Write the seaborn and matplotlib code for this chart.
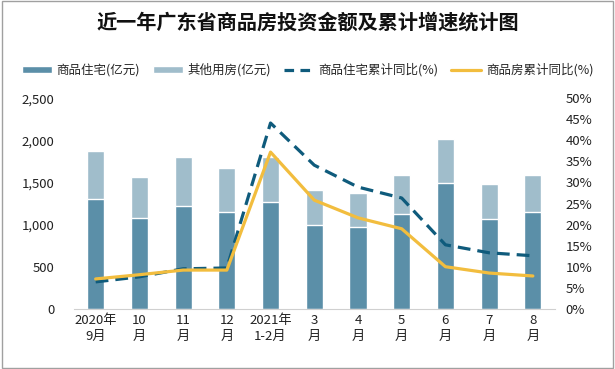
#! /usr/bin/env python3

"""Guangdong commercial housing investment over the past year, with cumulative growth."""

import seaborn as sns
import matplotlib.pyplot as plt
from matplotlib.patches import Patch, Rectangle
from matplotlib.lines import Line2D
from matplotlib.ticker import FuncFormatter
import numpy as np
import pandas

months = ["2020年\n9月", "10\n月", "11\n月", "12\n月", "2021年\n1-2月", "3\n月",
          "4\n月", "5\n月", "6\n月", "7\n月", "8\n月"]
housing = [1303, 1078, 1220, 1149, 1268, 995, 972, 1126, 1493, 1066, 1149]
other = [569, 486, 581, 522, 538, 415, 402, 462, 521, 415, 439]
housing_yoy = [6.4, 7.6, 9.5, 9.7, 44.1, 34.1, 28.9, 26.3, 15.2, 13.3, 12.6]
total_yoy = [7.1, 8.1, 9.2, 9.2, 37.2, 25.8, 21.6, 19.0, 10.0, 8.5, 7.8]

DARK = "#5b8fa8"
LIGHT = "#a0bdcb"
NAVY = "#0f5b7c"
GOLD = "#f2bd3e"


def main():
    df = pandas.DataFrame({"month": months, "housing": housing, "other": other,
                           "housing_yoy": housing_yoy, "total_yoy": total_yoy})
    df["total"] = df["housing"] + df["other"]
    df["pos"] = np.arange(len(df))

    sns.set_style("white")
    plt.rcParams["font.family"] = ["Noto Sans CJK SC", "DejaVu Sans"]

    fig = plt.figure(figsize=(6.15, 3.69), dpi=100)
    ax = fig.add_axes([0.120, 0.163, 0.782, 0.571])

    sns.barplot(data=df, x="month", y="total", color=LIGHT, width=0.39,
                saturation=1, ax=ax)
    sns.barplot(data=df, x="month", y="housing", color=DARK, width=0.39,
                saturation=1, ax=ax)
    ax.set_ylim(0, 2500)
    ax.set_yticks(range(0, 2501, 500))
    ax.yaxis.set_major_formatter(FuncFormatter(lambda v, p: f"{int(v):,}"))
    ax.set_xlabel("")
    ax.set_ylabel("")
    ax.tick_params(axis="both", length=0, labelsize=9.5, colors="#222222")
    ax.tick_params(axis="y", pad=14)
    for lab in ax.get_xticklabels():
        lab.set_linespacing(1.35)
    for s in ["top", "left", "right"]:
        ax.spines[s].set_visible(False)
    ax.spines["bottom"].set_color("#d0d0d0")

    ax2 = ax.twinx()
    sns.lineplot(data=df, x="pos", y="housing_yoy", color=NAVY, lw=2.3,
                 ax=ax2, dashes=False)
    ax2.lines[-1].set_dashes([4, 2.2])
    sns.lineplot(data=df, x="pos", y="total_yoy", color=GOLD, lw=2.3, ax=ax2)
    ax2.set_ylim(0, 50)
    ax2.set_yticks(range(0, 51, 5))
    ax2.yaxis.set_major_formatter(FuncFormatter(lambda v, p: f"{int(v)}%"))
    ax2.set_xlim(-0.5, len(df) - 0.5)
    ax2.set_ylabel("")
    ax2.set_xlabel("")
    ax2.tick_params(axis="y", length=0, labelsize=9.5, colors="#222222", pad=8)
    for s in ["top", "left", "right", "bottom"]:
        ax2.spines[s].set_visible(False)

    fig.text(0.5, 0.94, "近一年广东省商品房投资金额及累计增速统计图",
             ha="center", va="center", fontsize=14.5, fontweight="bold",
             color="#111111")

    handles = [
        Patch(facecolor=DARK, label="商品住宅(亿元)"),
        Patch(facecolor=LIGHT, label="其他用房(亿元)"),
        Line2D([], [], color=NAVY, lw=2.3, dashes=[3, 2], label="商品住宅累计同比(%)"),
        Line2D([], [], color=GOLD, lw=2.3, label="商品房累计同比(%)"),
    ]
    fig.legend(handles=handles, loc="center", bbox_to_anchor=(0.5, 0.81),
               ncol=4, frameon=False, fontsize=9, handlelength=2.4,
               handleheight=0.45, columnspacing=1.0, handletextpad=0.4)

    fig.patches.append(Rectangle((0.003, 0.004), 0.994, 0.992,
                                 transform=fig.transFigure, fill=False,
                                 edgecolor="#a0a0a0", lw=1))
    fig.savefig("out.png", dpi=100)


if __name__ == "__main__":
    main()
